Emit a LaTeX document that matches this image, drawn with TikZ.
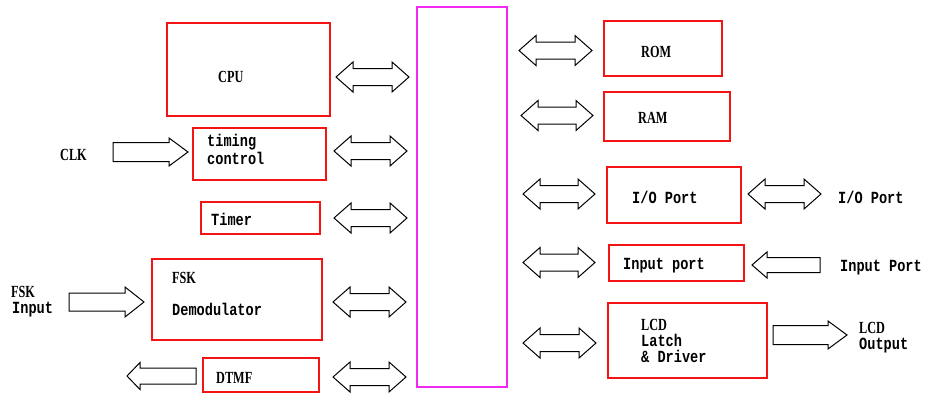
\documentclass[tikz,border=0pt]{standalone}
\usepackage{fontspec}
\newfontfamily\capfont[FakeStretch=0.72]{Liberation Serif}
\newfontfamily\monofont[FakeStretch=0.8]{Liberation Mono}
\definecolor{boxred}{RGB}{245,20,20}
\definecolor{busmag}{RGB}{240,40,240}
\newcommand\dblarw[3]{%
  \draw[arw] (#1,#3) -- (#1+17,#3-15) -- (#1+17,#3-8.5) -- (#2-17,#3-8.5) -- (#2-17,#3-15) -- (#2,#3)
    -- (#2-17,#3+15) -- (#2-17,#3+8.5) -- (#1+17,#3+8.5) -- (#1+17,#3+15) -- cycle;}
\newcommand\rarw[6]{%
  \draw[arw] (#1,#3-#5) -- (#2-#6,#3-#5) -- (#2-#6,#3-#4) -- (#2,#3) -- (#2-#6,#3+#4) -- (#2-#6,#3+#5) -- (#1,#3+#5) -- cycle;}
\newcommand\larw[6]{%
  \draw[arw] (#2,#3-#5) -- (#1+#6,#3-#5) -- (#1+#6,#3-#4) -- (#1,#3) -- (#1+#6,#3+#4) -- (#1+#6,#3+#5) -- (#2,#3+#5) -- cycle;}
\begin{document}
\begin{tikzpicture}[x=1pt,y=-1pt,
  rbox/.style={draw=boxred, line width=1.3pt, anchor=north west, inner sep=0pt, outer sep=0pt},
  busbox/.style={draw=busmag, line width=1.3pt, anchor=north west, inner sep=0pt, outer sep=0pt},
  arw/.style={draw=black, line width=1pt, line join=miter, fill=white},
  capt/.style={font={\fontsize{17}{17}\capfont\bfseries}, inner sep=0pt, anchor=base west},
  mono/.style={font={\fontsize{17}{17}\monofont\bfseries}, inner sep=0pt, anchor=base west, text height=10pt, text depth=2pt}]
\useasboundingbox (0,0) rectangle (927,394);
% boxes
\node[rbox, minimum width=163pt, minimum height=93pt] (cpu) at (167,23) {};
\node[rbox, minimum width=133pt, minimum height=52pt] (timing) at (193,128) {};
\node[rbox, minimum width=119pt, minimum height=32pt] (timer) at (201,202) {};
\node[rbox, minimum width=170pt, minimum height=81pt] (fsk) at (152,259) {};
\node[rbox, minimum width=116pt, minimum height=34pt] (dtmf) at (203,358) {};
\node[busbox, minimum width=90pt, minimum height=380pt] (bus) at (417,7) {};
\node[rbox, minimum width=118pt, minimum height=55pt] (rom) at (604,21) {};
\node[rbox, minimum width=126pt, minimum height=49pt] (ram) at (604,92) {};
\node[rbox, minimum width=134pt, minimum height=56pt] (io) at (607,167) {};
\node[rbox, minimum width=135pt, minimum height=36pt] (inp) at (609,245) {};
\node[rbox, minimum width=159pt, minimum height=75pt] (lcd) at (608,303) {};
% texts
\node[capt] (tcpu) at (218,82) {CPU};
\node[capt] (tclk) at (60,160) {CLK};
\node[mono] (ttim1) at (207,146.5) {timing};
\node[mono] (ttim2) at (207,164) {control};
\node[mono] (ttimer) at (211,225) {Timer};
\node[capt] (tfsk1) at (172,283) {FSK};
\node[mono] (tfsk2) at (172,315) {Demodulator};
\node[capt] (tfin1) at (11,297) {FSK};
\node[mono] (tfin2) at (12,313) {Input};
\node[capt] (tdtmf) at (216,383) {DTMF};
\node[capt] (trom) at (641,57) {ROM};
\node[capt] (tram) at (638,123) {RAM};
\node[mono] (tio) at (632,203) {I/O Port};
\node[mono] (tioext) at (838,203) {I/O Port};
\node[mono] (tinp) at (623,269) {Input port};
\node[mono] (tinpext) at (840,271) {Input Port};
\node[capt] (tlcd1) at (641,330) {LCD};
\node[mono] (tlcd2) at (641,346) {Latch};
\node[mono] (tlcd3) at (641,362) {\& Driver};
\node[capt] (tlo1) at (859,333) {LCD};
\node[mono] (tlo2) at (859,349) {Output};
% bidirectional arrows
\dblarw{336}{409}{77}
\dblarw{334}{407}{151}
\dblarw{334}{407}{218}
\dblarw{333}{406}{302}
\dblarw{333}{406}{377}
\dblarw{519}{592}{50.5}
\dblarw{521}{593}{115.5}
\dblarw{523}{595}{194}
\dblarw{748}{821}{194}
\dblarw{523}{595}{262.5}
\dblarw{523}{596}{343}
% single arrows
\rarw{113}{188}{152}{14}{9.5}{19}
\rarw{69}{144}{302}{15}{9}{19}
\larw{127}{196}{376}{13.5}{8}{13}
\larw{752}{820}{265}{13}{7.5}{15}
\rarw{773}{847}{335}{14}{9.5}{19}
\end{tikzpicture}
\end{document}
